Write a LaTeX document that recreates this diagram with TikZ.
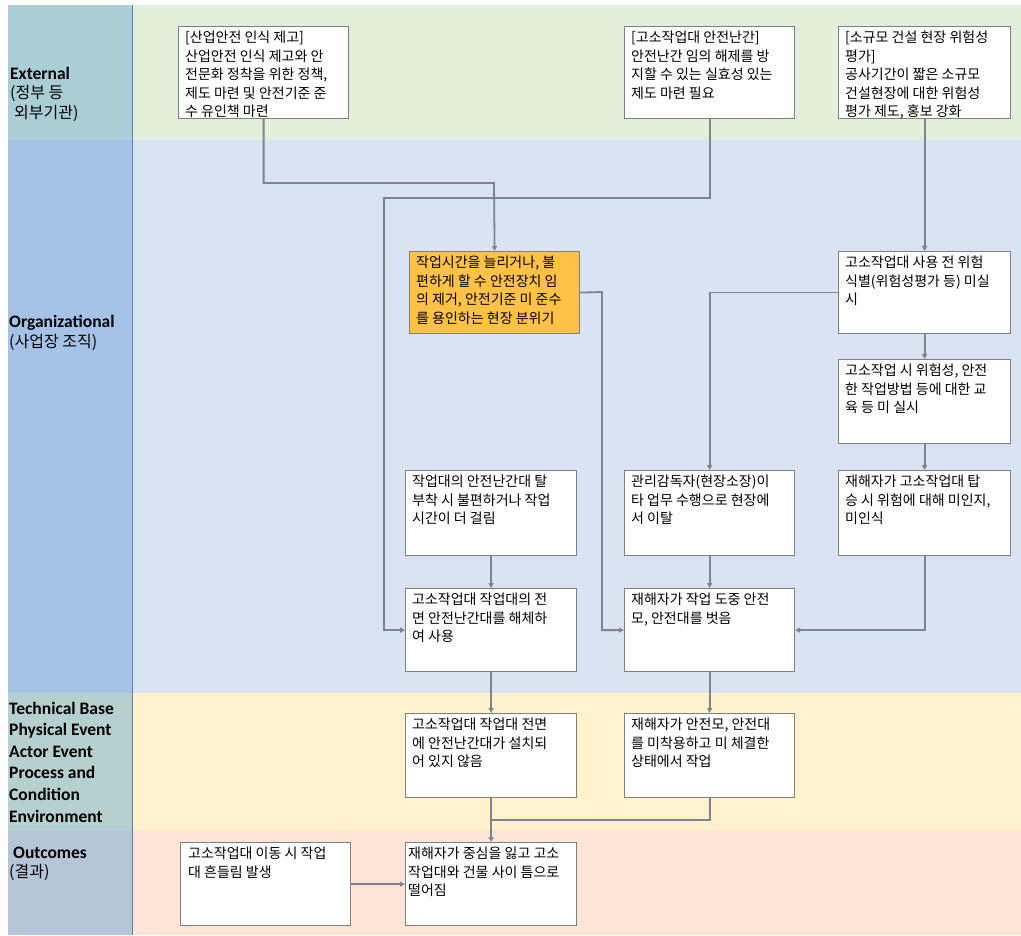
\documentclass[tikz,border=0pt]{standalone}
\usepackage{fontspec}
\setmainfont{Noto Sans CJK KR}
\newfontfamily\latf{Carlito}
\usetikzlibrary{arrows.meta}
\definecolor{bandExt}{HTML}{E2EFDA}
\definecolor{bandOrg}{HTML}{DAE3F3}
\definecolor{bandTech}{HTML}{FFF2CC}
\definecolor{bandOut}{HTML}{FCE4D6}
\definecolor{leftExt}{HTML}{A9CED6}
\definecolor{leftOrg}{HTML}{A5C3E6}
\definecolor{leftTech}{HTML}{B6D0D0}
\definecolor{leftOut}{HTML}{B7C5D9}
\definecolor{divline}{HTML}{5B7DB0}
\definecolor{boxline}{HTML}{7F7F7F}
\definecolor{connline}{HTML}{7E838E}
\definecolor{hilite}{HTML}{FFC247}
\begin{document}
\begin{tikzpicture}[x=1pt,y=-1pt,
  bx/.style={draw=boxline, fill=white, line width=1.2pt, anchor=north west, inner sep=0pt, minimum width=#1},
  bx/.default=170pt,
  txt/.style={anchor=north west, inner sep=0pt, align=left, font=\fontsize{14pt}{18.5pt}\selectfont},
  lbl/.style={anchor=west, inner sep=0pt, align=left},
  conn/.style={draw=connline, line width=1.8pt, -{Triangle[length=5pt,width=5pt]}},
  connplain/.style={draw=connline, line width=1.8pt}]
\useasboundingbox (0,0) rectangle (1021,936);
% bands
\fill[bandExt] (132,5) rectangle (1021,140);
\fill[bandOrg] (132,140) rectangle (1021,693);
\fill[bandTech] (132,693) rectangle (1021,830);
\fill[bandOut] (132,830) rectangle (1021,935);
\fill[leftExt] (8,5) rectangle (132,140);
\fill[leftOrg] (8,140) rectangle (132,693);
\fill[leftTech] (8,693) rectangle (132,830);
\fill[leftOut] (8,830) rectangle (132,935);
\draw[divline, line width=1pt] (132,5) -- (132,935);
% lane labels
\node[lbl, font=\fontsize{17.5pt}{19.5pt}\selectfont] (lExt) at (10,94)
  {\latf\bfseries External\\\fontsize{16pt}{19.5pt}\selectfont (정부 등\\\fontsize{16pt}{19.5pt}\selectfont\hspace*{4pt}외부기관)};
\node[lbl, font=\fontsize{17.5pt}{20pt}\selectfont] (lOrg) at (9,333)
  {\latf\bfseries Organizational\\\fontsize{16pt}{20pt}\selectfont (사업장 조직)};
\node[lbl, font=\fontsize{17.5pt}{21.6pt}\selectfont\latf\bfseries] (lTech) at (9,762)
  {Technical Base\\Physical Event\\Actor Event\\Process and\\Condition\\Environment};
\node[lbl, font=\fontsize{17.5pt}{19pt}\selectfont] (lOut) at (9,864)
  {\latf\bfseries\hspace*{4pt}Outcomes\\\fontsize{16pt}{19pt}\selectfont (결과)};
% boxes
\node[bx, minimum height=92pt] (A) at (178,26) {};
\node[txt] (At) at (185,31) {[산업안전 인식 제고]\\산업안전 인식 제고와 안\\전문화 정착을 위한 정책,\\제도 마련 및 안전기준 준\\수 유인책 마련};
\node[bx, minimum height=92pt] (B) at (624,26) {};
\node[txt] (Bt) at (631,31) {[고소작업대 안전난간]\\안전난간 임의 해제를 방\\지할 수 있는 실효성 있는\\제도 마련 필요};
\node[bx=172pt, minimum height=92pt] (C) at (838,26) {};
\node[txt] (Ct) at (845,31) {[소규모 건설 현장 위험성\\평가]\\공사기간이 짧은 소규모\\건설현장에 대한 위험성\\평가 제도, 홍보 강화};
\node[bx, fill=hilite, minimum height=82pt] (D) at (409,251) {};
\node[txt] (Dt) at (416,256) {작업시간을 늘리거나, 불\\편하게 할 수 안전장치 임\\의 제거, 안전기준 미 준수\\를 용인하는 현장 분위기};
\node[bx=172pt, minimum height=82pt] (E) at (838,251) {};
\node[txt] (Et) at (845,256) {고소작업대 사용 전 위험\\식별(위험성평가 등) 미실\\시};
\node[bx=172pt, minimum height=84pt] (F) at (838,359) {};
\node[txt] (Ft) at (845,364) {고소작업 시 위험성, 안전\\한 작업방법 등에 대한 교\\육 등 미 실시};
\node[bx=171pt, minimum height=85pt] (G) at (405,470) {};
\node[txt] (Gt) at (412,475) {작업대의 안전난간대 탈\\부착 시 불편하거나 작업\\시간이 더 걸림};
\node[bx, minimum height=85pt] (H) at (624,470) {};
\node[txt] (Ht) at (631,475) {관리감독자(현장소장)이\\타 업무 수행으로 현장에\\서 이탈};
\node[bx=172pt, minimum height=85pt] (I) at (838,470) {};
\node[txt] (It) at (845,475) {재해자가 고소작업대 탑\\승 시 위험에 대해 미인지,\\미인식};
\node[bx=171pt, minimum height=83pt] (J) at (405,588) {};
\node[txt] (Jt) at (412,593) {고소작업대 작업대의 전\\면 안전난간대를 해체하\\여 사용};
\node[bx, minimum height=83pt] (K) at (624,588) {};
\node[txt] (Kt) at (631,593) {재해자가 작업 도중 안전\\모, 안전대를 벗음};
\node[bx=171pt, minimum height=84pt] (L) at (405,713) {};
\node[txt] (Lt) at (412,718) {고소작업대 작업대 전면\\에 안전난간대가 설치되\\어 있지 않음};
\node[bx, minimum height=84pt] (M) at (624,713) {};
\node[txt] (Mt) at (631,718) {재해자가 안전모, 안전대\\를 미착용하고 미 체결한\\상태에서 작업};
\node[bx, minimum height=83pt] (N) at (180,842) {};
\node[txt] (Nt) at (188,847) {고소작업대 이동 시 작업\\대 흔들림 발생};
\node[bx=171pt, minimum height=83pt] (O) at (405,842) {};
\node[txt] (Ot) at (408,847) {재해자가 중심을 잃고 고소\\작업대와 건물 사이 틈으로\\떨어짐};
% bend coordinates
\coordinate (ab) at (494,183);
\coordinate (bj) at (384,198);
\coordinate (dk) at (602,292);
\coordinate (mo) at (490.5,820);
% connectors
\draw[conn] (A.south) |- (ab) -- (D.north);
\draw[conn] (B.south) |- (bj) |- (J.west);
\draw[conn] (D.east) -- (dk) |- (K.west);
\draw[conn] (E.west) -| (H.north);
\draw[conn] (C.south) -- (E.north);
\draw[conn] (E.south) -- (F.north);
\draw[conn] (F.south) -- (I.north);
\draw[conn] (I.south) |- (K.east);
\draw[conn] (G.south) -- (J.north);
\draw[conn] (H.south) -- (K.north);
\draw[conn] (J.south) -- (L.north);
\draw[conn] (K.south) -- (M.north);
\draw[conn] (L.south) -- (O.north);
\draw[connplain] (M.south) |- (mo);
\draw[conn] (N.east) -- (O.west);
\end{tikzpicture}
\end{document}
